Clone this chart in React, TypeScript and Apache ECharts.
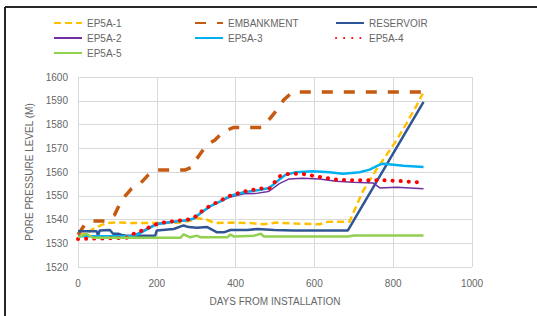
import React, { useEffect, useRef } from "react";
import * as echarts from "echarts";

const xTicks = { min: 0, max: 1000, interval: 200 };
const yTicks = { min: 1520, max: 1600, interval: 10 };

const seriesNames = ["EP5A-1", "EMBANKMENT", "RESERVOIR", "EP5A-2", "EP5A-3", "EP5A-4", "EP5A-5"];

const ep5a1: [number, number][] = [
  [0, 1533.5], [20, 1534], [42, 1536.4], [72, 1538.5], [97, 1538.8], [140, 1538.5], [199, 1538.5],
  [258, 1538.7], [285, 1539.5], [301, 1540.6], [326, 1540], [347, 1538.5], [394, 1538.7], [436, 1538.5],
  [470, 1538], [504, 1538.7], [553, 1538.3], [613, 1538], [634, 1539], [689, 1539.1], [723, 1551.9],
  [757, 1561], [783, 1567.2], [809, 1573.5], [834, 1580.5], [860, 1588.2], [875, 1593],
];

const embankment: [number, number][] = [
  [0, 1533.6], [17, 1537.8], [30, 1539.4], [72, 1539.4], [93, 1542], [110, 1548], [136, 1553],
  [157, 1555], [178, 1558.7], [195, 1560.8], [271, 1560.8], [288, 1562], [305, 1566.4], [326, 1571.3],
  [347, 1573.4], [369, 1577], [394, 1578.7], [466, 1578.7], [487, 1582.5], [504, 1586], [523, 1590.5],
  [545, 1593.7], [872, 1593.7],
];

const reservoir: [number, number][] = [
  [0, 1535.1], [47, 1535.1], [51, 1533.2], [55, 1535.4], [81, 1535.6], [89, 1534], [102, 1534],
  [111, 1533.5], [123, 1533.2], [196, 1533.2], [200, 1535.4], [243, 1536], [268, 1537.5], [281, 1536.8],
  [302, 1536.5], [328, 1536.8], [353, 1534.6], [370, 1534.6], [387, 1535.6], [430, 1535.6], [455, 1536],
  [498, 1535.6], [549, 1535.4], [685, 1535.4], [877, 1589.5],
];

const ep5a2: [number, number][] = [
  [0, 1533], [130, 1533], [150, 1534], [200, 1538.3], [243, 1539.2], [277, 1539.7], [294, 1540.3],
  [311, 1542.5], [336, 1545.5], [362, 1547.5], [387, 1549.5], [421, 1550.8], [453, 1551], [479, 1551.7],
  [485, 1551.9], [511, 1555.1], [536, 1557.1], [570, 1557.4], [613, 1557.1], [655, 1556.1], [698, 1555.7],
  [749, 1555.4], [766, 1553.3], [809, 1553.6], [877, 1552.9],
];

const ep5a3: [number, number][] = [
  [0, 1533], [140, 1533], [155, 1534], [200, 1538], [243, 1539], [277, 1539.7], [294, 1540.4],
  [311, 1542.8], [336, 1545.6], [362, 1547.7], [387, 1550], [421, 1551.5], [464, 1552.5], [485, 1553.3],
  [511, 1556.8], [528, 1558.9], [553, 1559.9], [596, 1560.3], [638, 1559.9], [672, 1559.3], [715, 1559.9],
  [740, 1561], [766, 1563.1], [775, 1563.5], [826, 1562.6], [877, 1562.1],
];

const ep5a4: [number, number][] = [
  [0, 1531.8], [123, 1532.3], [140, 1533.9], [166, 1535.6], [191, 1537.5], [208, 1538.5], [243, 1539.3],
  [277, 1539.9], [294, 1540.7], [311, 1543.1], [336, 1545.9], [362, 1548], [387, 1550.1], [421, 1551.8],
  [466, 1553.1], [487, 1553.2], [511, 1558.2], [536, 1559.3], [570, 1559.2], [613, 1557.9], [655, 1556.8],
  [698, 1556.5], [783, 1556.5], [826, 1556.1], [860, 1555.7],
];

const ep5a5: [number, number][] = [
  [0, 1532.5], [21, 1534], [38, 1532.3], [260, 1532.3], [268, 1533.7], [285, 1532.5], [302, 1533.2],
  [311, 1532.5], [379, 1532.5], [387, 1533.7], [396, 1532.8], [447, 1533.2], [464, 1534], [472, 1532.8],
  [685, 1532.8], [700, 1533.3], [877, 1533.3],
];

const seriesData = [ep5a1, embankment, reservoir, ep5a2, ep5a3, ep5a4, ep5a5];
const seriesColors = ["#FFC000", "#C55A11", "#2F5597", "#7030A0", "#00B0F0", "#FF0000", "#92D050"];

const FONT = "Liberation Sans";
const TXT = "#666666";

export default function App() {
  const ref = useRef<HTMLDivElement>(null);
  useEffect(() => {
    if (!ref.current) return;
    const chart = echarts.init(ref.current, undefined, { renderer: "svg" });
    const lineStyles: any[] = [
      { width: 2.5, type: [7, 4] },
      { width: 3.5, type: [11, 11] },
      { width: 2.5, type: "solid" },
      { width: 1.5, type: "solid" },
      { width: 2.5, type: "solid" },
      { width: 4, type: [0.1, 8], cap: "round" },
      { width: 2.5, type: "solid" },
    ];
    const series = seriesNames.map((name, i) => ({
      name,
      type: "line",
      data: seriesData[i],
      symbol: "none",
      color: seriesColors[i],
      lineStyle: { color: seriesColors[i], ...lineStyles[i] },
      z: 2 + i,
    }));
    const legendBase = {
      orient: "vertical",
      itemWidth: 28,
      itemHeight: 10,
      itemGap: 5,
      padding: 0,
      itemStyle: { opacity: 0 },
      textStyle: { fontFamily: FONT, fontSize: 10, color: TXT },
    };
    const noComma = (v: number) => String(v);
    chart.setOption({
      animation: false,
      textStyle: { fontFamily: FONT },
      legend: [
        { ...legendBase, data: ["EP5A-1", "EP5A-2", "EP5A-5"], left: 53, top: 18 },
        { ...legendBase, data: ["EMBANKMENT", "EP5A-3"], left: 194, top: 18 },
        { ...legendBase, data: ["RESERVOIR", "EP5A-4"], left: 335, top: 18 },
      ],
      grid: { left: 78, right: 65, top: 77, bottom: 49, containLabel: false },
      xAxis: {
        type: "value",
        ...xTicks,
        name: "DAYS FROM INSTALLATION",
        nameLocation: "middle",
        nameGap: 29,
        nameTextStyle: { fontFamily: FONT, fontSize: 10, color: TXT },
        axisLine: { show: false },
        axisTick: { show: false },
        axisLabel: { fontFamily: FONT, fontSize: 10, color: TXT, margin: 11, formatter: noComma },
        splitLine: { show: true, lineStyle: { color: "#D9D9D9", width: 1 } },
      },
      yAxis: {
        type: "value",
        ...yTicks,
        name: "PORE PRESSURE LEVEL (M)",
        nameLocation: "middle",
        nameGap: 34,
        nameTextStyle: { fontFamily: FONT, fontSize: 10, color: TXT },
        axisLine: { show: false },
        axisTick: { show: false },
        axisLabel: { fontFamily: FONT, fontSize: 10, color: TXT, margin: 10, formatter: noComma },
        splitLine: { show: true, lineStyle: { color: "#D9D9D9", width: 1 } },
      },
      graphic: [
        { type: "line", shape: { x1: 5, y1: 7, x2: 537, y2: 7 }, style: { stroke: "#262626", lineWidth: 2 } },
        { type: "line", shape: { x1: 5, y1: 7, x2: 5, y2: 316 }, style: { stroke: "#262626", lineWidth: 2 } },
      ],
      series,
    });
    return () => chart.dispose();
  }, []);
  return (
    <div
      ref={ref}
      style={{ position: "absolute", left: 0, top: 0, width: 537, height: 316, background: "#fff" }}
    />
  );
}
